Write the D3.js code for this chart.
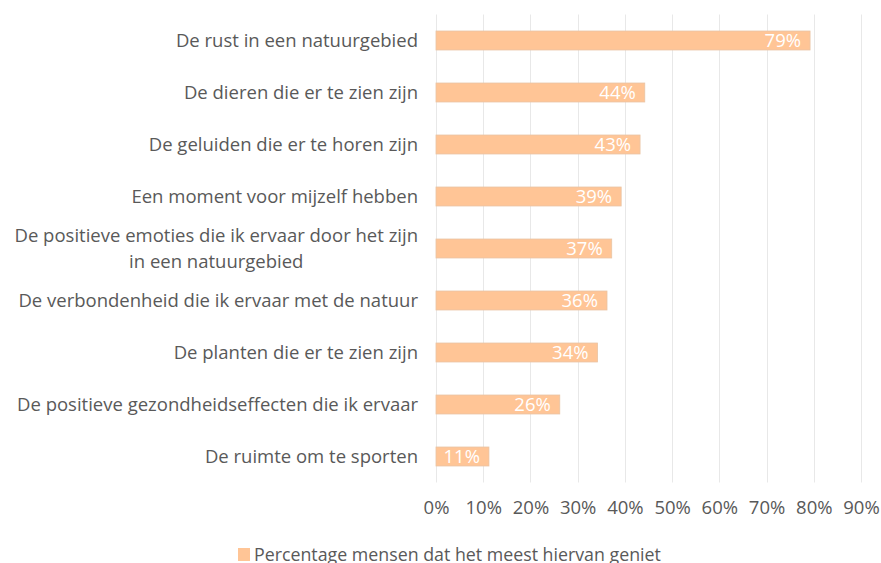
<!DOCTYPE html>
<html>
<head>
<meta charset="utf-8">
<script src="https://cdn.jsdelivr.net/npm/d3@7"></script>
<style>
  body { margin: 0; background: #fff; }
  svg { font-family: "Open Sans", "Noto Sans", sans-serif; }
  .cat { fill: #595959; font-size: 18.5px; }
  .leg { fill: #595959; font-size: 17.8px; }
  .val { fill: #fff; font-size: 18.5px; }
</style>
</head>
<body>
<svg id="chart" width="881" height="563"></svg>
<script>
var categories = [
  ["De rust in een natuurgebied"],
  ["De dieren die er te zien zijn"],
  ["De geluiden die er te horen zijn"],
  ["Een moment voor mijzelf hebben"],
  ["De positieve emoties die ik ervaar door het zijn", "in een natuurgebied"],
  ["De verbondenheid die ik ervaar met de natuur"],
  ["De planten die er te zien zijn"],
  ["De positieve gezondheidseffecten die ik ervaar"],
  ["De ruimte om te sporten"]
];
var values = [79, 44, 43, 39, 37, 36, 34, 26, 11];
var tickValues = [0, 10, 20, 30, 40, 50, 60, 70, 80, 90];
var seriesName = "Percentage mensen dat het meest hiervan geniet";

var svg = d3.select("#chart");
var barColor = "#ffc596";

var x = d3.scaleLinear().domain([0, 90]).range([436, 861]);
var y = d3.scaleBand()
  .domain(d3.range(categories.length))
  .range([14.5, 482.5])
  .paddingInner(0.635)
  .paddingOuter(0.3175);

// grid lines
svg.append("g").selectAll("line")
  .data(tickValues)
  .enter().append("line")
  .attr("x1", function(d) { return Math.round(x(d)) + 0.5; })
  .attr("x2", function(d) { return Math.round(x(d)) + 0.5; })
  .attr("y1", 14.5)
  .attr("y2", 482.5)
  .attr("stroke", "#e8e8e8")
  .attr("stroke-width", 1);

// bars
svg.append("g").selectAll("rect")
  .data(values)
  .enter().append("rect")
  .attr("x", x(0))
  .attr("y", function(d, i) { return y(i); })
  .attr("width", function(d) { return x(d) - x(0) + 1; })
  .attr("height", y.bandwidth())
  .attr("fill", barColor)
  .attr("stroke", "#e9c4a4")
  .attr("stroke-width", 0.8);

// value labels
svg.append("g").selectAll("text")
  .data(values)
  .enter().append("text")
  .attr("class", "val")
  .attr("x", function(d) { return x(d) - 8; })
  .attr("y", function(d, i) { return y(i) + y.bandwidth() / 2; })
  .attr("dy", "0.36em")
  .attr("text-anchor", "end")
  .text(function(d) { return d + "%"; });

// category labels
var lineH = 26;
categories.forEach(function(lines, i) {
  var cy = y(i) + y.bandwidth() / 2;
  var g = svg.append("g");
  var texts = lines.map(function(t, j) {
    return g.append("text")
      .attr("class", "cat")
      .attr("y", cy + (j - (lines.length - 1) / 2) * lineH)
      .attr("dy", "0.35em")
      .text(t);
  });
  var widths = texts.map(function(t) { return t.node().getComputedTextLength(); });
  var maxW = d3.max(widths);
  var center = 418 - maxW / 2;
  texts.forEach(function(t, j) {
    if (lines.length > 1) {
      t.attr("x", center).attr("text-anchor", "middle");
    } else {
      t.attr("x", 418).attr("text-anchor", "end");
    }
  });
});

// x axis labels
var xAxis = d3.axisBottom(x)
  .tickValues(tickValues)
  .tickSize(0)
  .tickPadding(0)
  .tickFormat(function(d) { return d + "%"; });

var axisG = svg.append("g")
  .attr("transform", "translate(0,508)")
  .call(xAxis);
axisG.select(".domain").remove();
axisG.selectAll("text")
  .attr("fill", "#595959")
  .attr("y", 0)
  .attr("dy", "0.35em")
  .style("font-family", "\"Open Sans\", \"Noto Sans\", sans-serif")
  .style("font-size", "18.5px");

// legend
var legend = svg.append("g");
legend.append("rect")
  .attr("x", 238)
  .attr("y", 548)
  .attr("width", 12)
  .attr("height", 13)
  .attr("fill", barColor);
legend.append("text")
  .attr("class", "leg")
  .attr("x", 254)
  .attr("y", 555)
  .attr("dy", "0.35em")
  .text(seriesName);
</script>
</body>
</html>
